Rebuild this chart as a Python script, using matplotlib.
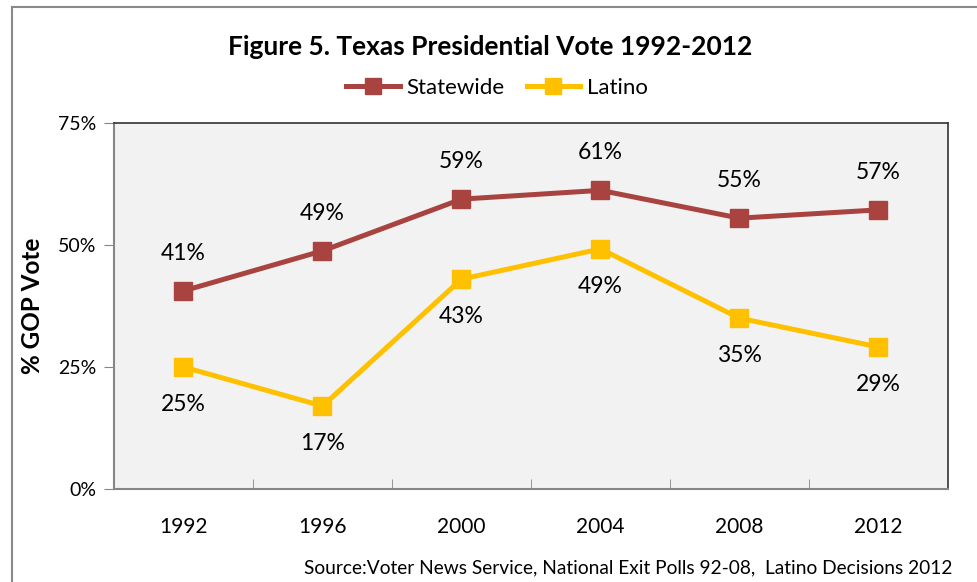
import matplotlib.pyplot as plt
from matplotlib.patches import Rectangle

years = ['1992', '1996', '2000', '2004', '2008', '2012']
statewide = [40.6, 48.8, 59.4, 61.2, 55.5, 57.2]
statewide_labels = ['41%', '49%', '59%', '61%', '55%', '57%']
latino = [25.0, 17.0, 43.0, 49.2, 35.0, 29.1]
latino_labels = ['25%', '17%', '43%', '49%', '35%', '29%']

plt.rcParams['font.family'] = ['Lato', 'DejaVu Sans']

red = '#A9433F'
gold = '#FFC000'

fig = plt.figure(figsize=(9.78, 5.82), dpi=100)
ax = fig.add_axes([114/978, 93/582, 834/978, 366/582])
ax.set_facecolor('#F2F2F2')

x = list(range(len(years)))
ax.plot(x, statewide, color=red, lw=3.6, marker='s', ms=13, label='Statewide')
ax.plot(x, latino, color=gold, lw=3.6, marker='s', ms=13, label='Latino')

for i in x:
    ax.annotate(statewide_labels[i], (i, statewide[i]), xytext=(0, 27),
                textcoords='offset points', ha='center', va='center', fontsize=16.5)
    ax.annotate(latino_labels[i], (i, latino[i]), xytext=(0, -27),
                textcoords='offset points', ha='center', va='center', fontsize=16.5)

ax.set_xlim(-0.5, 5.5)
ax.set_ylim(0, 75)
ax.set_yticks([0, 25, 50, 75])
ax.set_yticklabels(['0%', '25%', '50%', '75%'], fontsize=14)
ax.set_xticks(x)
ax.set_xticklabels(years, fontsize=15)
ax.set_xticks([0.5, 1.5, 2.5, 3.5, 4.5], minor=True)
ax.tick_params(axis='x', which='major', length=0, pad=20)
ax.tick_params(axis='x', which='minor', direction='in', length=7, color='#868686')
ax.tick_params(axis='y', length=7, color='#868686', pad=6)

for s in ['left', 'bottom']:
    ax.spines[s].set_color('#868686')
    ax.spines[s].set_linewidth(1.5)
for s in ['top', 'right']:
    ax.spines[s].set_color('#333333')
    ax.spines[s].set_linewidth(1.2)

ax.set_ylabel('% GOP Vote', fontsize=17.5, fontweight='bold', labelpad=10)

fig.text(490/978, 1 - 47/582, 'Figure 5. Texas Presidential Vote 1992-2012',
         ha='center', va='center', fontsize=19, fontweight='bold')

fig.legend(loc='center', bbox_to_anchor=(497/978, 1 - 88/582), ncol=2, frameon=False,
           fontsize=16, handlelength=2.4, columnspacing=1.0, handletextpad=0.3,
           markerscale=0.85)

fig.text(952/978, 1 - 568/582,
         'Source:Voter News Service, National Exit Polls 92-08,  Latino Decisions 2012',
         ha='right', va='center', fontsize=13.8)

fig.patches.append(Rectangle((12/978, -0.05), 2, 1 - 7/582 + 0.05,
                             transform=fig.transFigure, fill=False,
                             edgecolor='#898989', lw=1.5))

fig.savefig('out.png', dpi=100)
